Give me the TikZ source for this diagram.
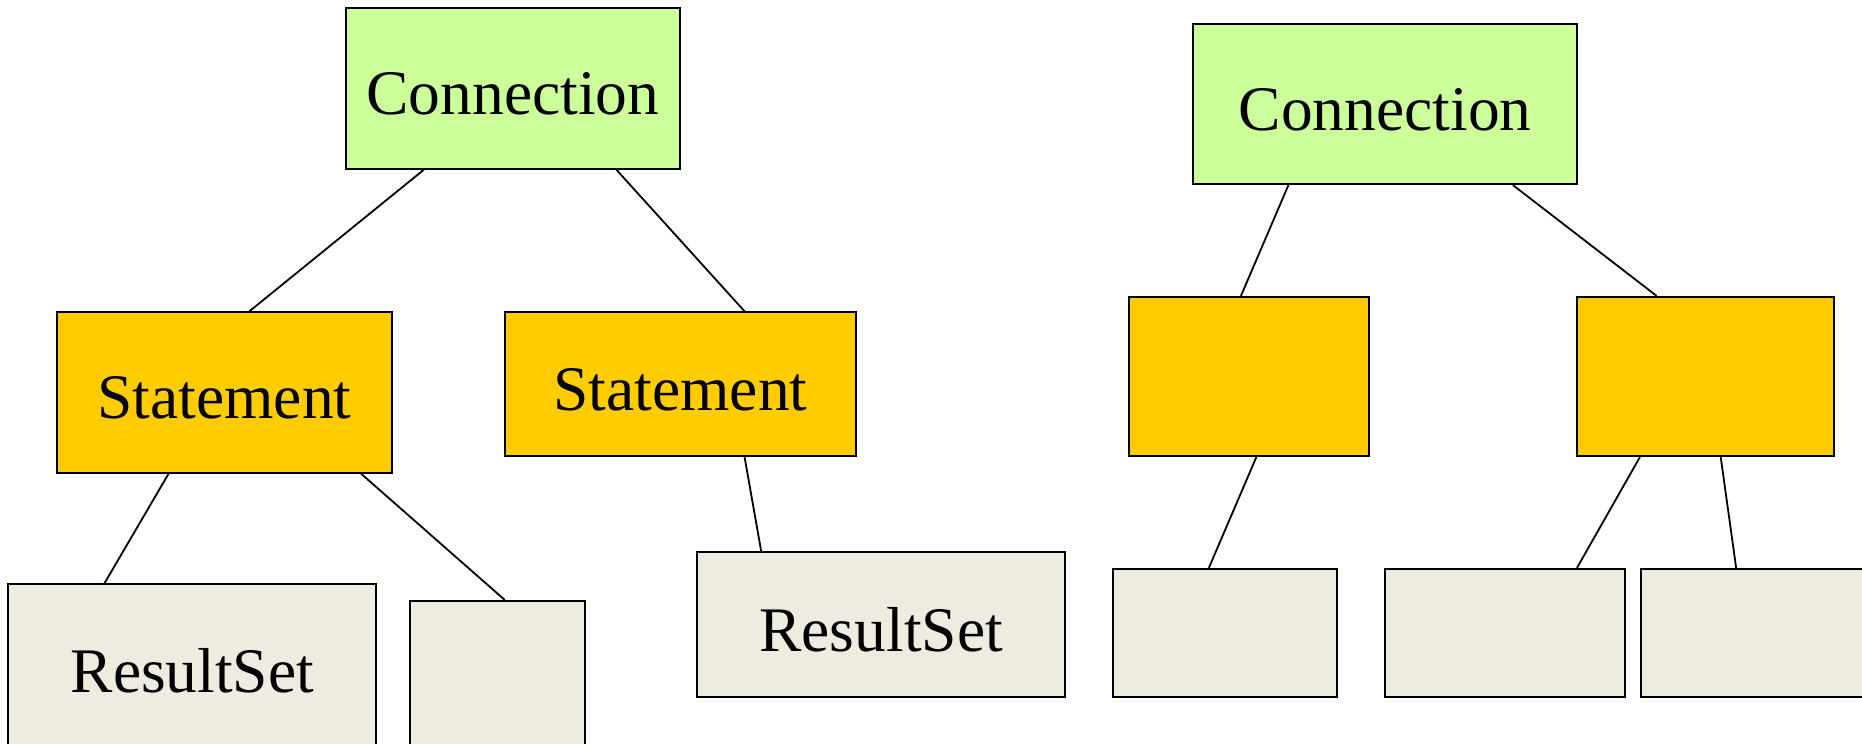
\documentclass[tikz,border=0pt]{standalone}
\usepackage{fontspec}
\setmainfont{Liberation Serif}
\definecolor{cgreen}{HTML}{CCFF99}
\definecolor{cyellow}{HTML}{FFCC00}
\definecolor{cbeige}{HTML}{EEECE1}
\begin{document}
\begin{tikzpicture}[x=1.1875pt,y=-1.1875pt,
  bx/.style 2 args={draw=black,line width=2pt,inner sep=0pt,
    minimum width={#1*1.1875pt},minimum height={#2*1.1875pt},
    font=\fontsize{63.5}{70}\selectfont,text height=53pt,text depth=0pt},
  conn/.style={line width=1.8pt},
  gbox/.style={fill=cgreen},
  ybox/.style={fill=cyellow},
  wbox/.style={fill=cbeige}]
\useasboundingbox (0,0) rectangle (1568,626.5);
% left tree
\node[bx={282}{135},gbox] (c1) at (432,74.5) {Connection};
\node[bx={282}{135},ybox] (s1) at (189,330.5) {Statement};
\node[bx={296}{121},ybox] (s2) at (573,323.5) {Statement};
\node[bx={310}{138},wbox] (r1) at (162,561) {ResultSet};
\node[bx={148}{126},wbox] (e1) at (419,569) {};
\node[bx={310}{122},wbox] (r2) at (742,526) {ResultSet};
% right tree
\node[bx={323}{135},gbox] (c2) at (1166.5,87.5) {Connection};
\node[bx={202}{134},ybox] (y1) at (1052,317) {};
\node[bx={216}{134},ybox] (y2) at (1436,317) {};
\node[bx={189}{108},wbox] (e2) at (1031.5,533) {};
\node[bx={202}{108},wbox] (e3) at (1267,533) {};
\node[bx={202}{108},wbox] (e4) at (1483,533) {};
% connectors
\draw[conn] (c1.south -| 357,0) -- (s1.north -| 210,0);
\draw[conn] (c1.south -| 519,0) -- (s2.north -| 627,0);
\draw[conn] (s1.south -| 142,0) -- (r1.north -| 88,0);
\draw[conn] (s1.south -| 304,0) -- (e1.north -| 425,0);
\draw[conn] (s2.south -| 627,0) -- (r2.north -| 641,0);
\draw[conn] (c2.south -| 1085,0) -- (y1.north -| 1045,0);
\draw[conn] (c2.south -| 1274,0) -- (y2.north -| 1395,0);
\draw[conn] (y1.south -| 1058,0) -- (e2.north -| 1018,0);
\draw[conn] (y2.south -| 1381,0) -- (e3.north -| 1328,0);
\draw[conn] (y2.south -| 1449,0) -- (e4.north -| 1462,0);
\end{tikzpicture}
\end{document}
